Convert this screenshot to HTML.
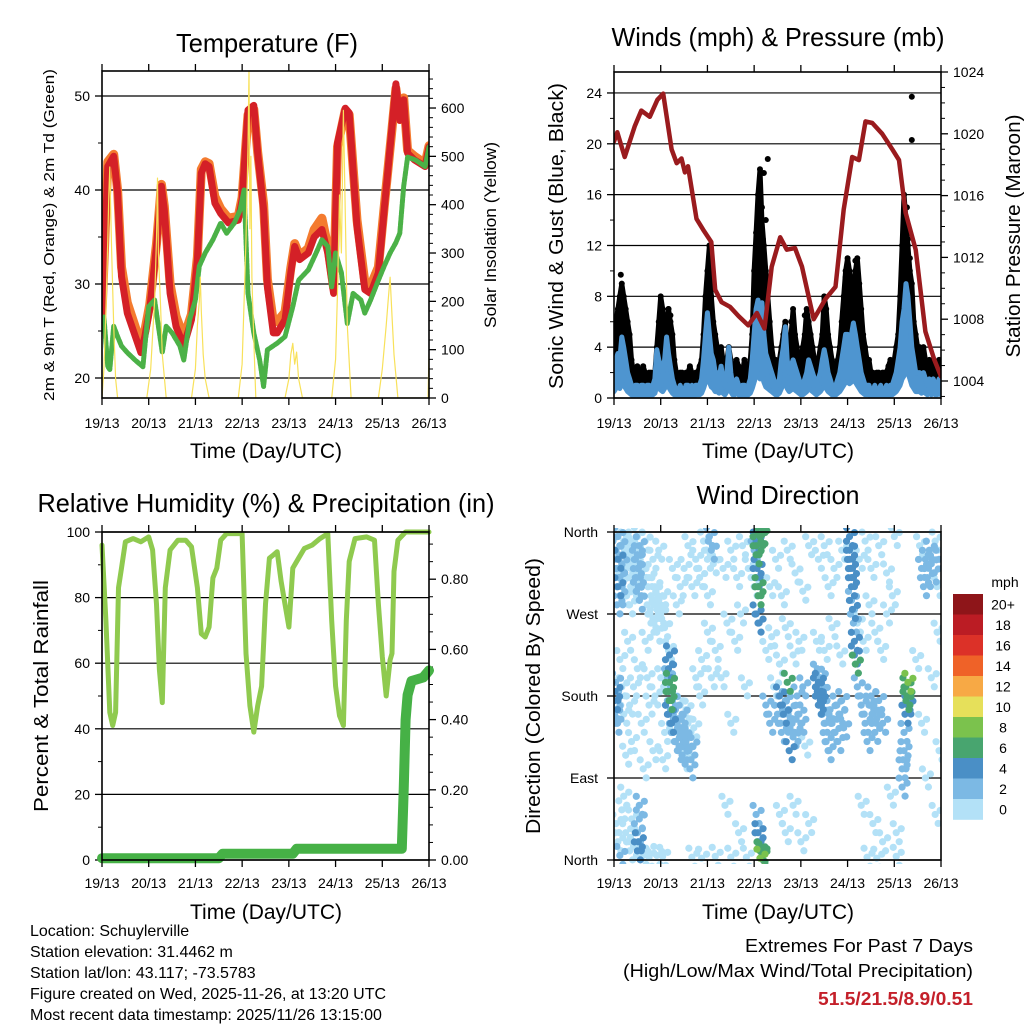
<!DOCTYPE html>
<html><head><meta charset="utf-8"><style>
html,body{margin:0;padding:0;background:#fff}
svg{display:block}
text{font-family:"Liberation Sans",sans-serif;fill:#000}
</style></head><body>
<svg id="fig" width="1024" height="1024" viewBox="0 0 1024 1024" xmlns="http://www.w3.org/2000/svg">
<rect x="0" y="0" width="1024" height="1024" fill="#fff"/>
<text x="267" y="52" font-size="26" text-anchor="middle" textLength="182" lengthAdjust="spacingAndGlyphs">Temperature (F)</text>
<text x="778" y="46" font-size="26" text-anchor="middle" textLength="333" lengthAdjust="spacingAndGlyphs">Winds (mph) &amp; Pressure (mb)</text>
<text x="266" y="512" font-size="26" text-anchor="middle" textLength="457" lengthAdjust="spacingAndGlyphs">Relative Humidity (%) &amp; Precipitation (in)</text>
<text x="778" y="504" font-size="26" text-anchor="middle" textLength="163" lengthAdjust="spacingAndGlyphs">Wind Direction</text>
<text x="266" y="458" font-size="21" text-anchor="middle" textLength="152" lengthAdjust="spacingAndGlyphs">Time (Day/UTC)</text>
<text x="778" y="458" font-size="21" text-anchor="middle" textLength="152" lengthAdjust="spacingAndGlyphs">Time (Day/UTC)</text>
<text x="266" y="919" font-size="21" text-anchor="middle" textLength="152" lengthAdjust="spacingAndGlyphs">Time (Day/UTC)</text>
<text x="778" y="919" font-size="21" text-anchor="middle" textLength="152" lengthAdjust="spacingAndGlyphs">Time (Day/UTC)</text>
<text transform="translate(54,235) rotate(-90)" font-size="15" text-anchor="middle" textLength="332" lengthAdjust="spacingAndGlyphs">2m &amp; 9m T (Red, Orange) &amp; 2m Td (Green)</text>
<text transform="translate(496,235) rotate(-90)" font-size="17" text-anchor="middle" textLength="186" lengthAdjust="spacingAndGlyphs">Solar Insolation (Yellow)</text>
<text transform="translate(563,236) rotate(-90)" font-size="20" text-anchor="middle" textLength="306" lengthAdjust="spacingAndGlyphs">Sonic Wind &amp; Gust (Blue, Black)</text>
<text transform="translate(1020,236) rotate(-90)" font-size="20" text-anchor="middle" textLength="243" lengthAdjust="spacingAndGlyphs">Station Pressure (Maroon)</text>
<text transform="translate(48,696) rotate(-90)" font-size="20" text-anchor="middle" textLength="232" lengthAdjust="spacingAndGlyphs">Percent &amp; Total Rainfall</text>
<text transform="translate(540,696) rotate(-90)" font-size="20" text-anchor="middle" textLength="276" lengthAdjust="spacingAndGlyphs">Direction (Colored By Speed)</text>
<g font-size="16">
<text x="30" y="936">Location: Schuylerville</text>
<text x="30" y="957">Station elevation: 31.4462 m</text>
<text x="30" y="978">Station lat/lon: 43.117; -73.5783</text>
<text x="30" y="999">Figure created on Wed, 2025-11-26, at 13:20 UTC</text>
<text x="30" y="1020">Most recent data timestamp: 2025/11/26 13:15:00</text>
</g>
<text x="973" y="952" font-size="18" text-anchor="end" textLength="228" lengthAdjust="spacingAndGlyphs">Extremes For Past 7 Days</text>
<text x="973" y="977" font-size="18" text-anchor="end" textLength="350" lengthAdjust="spacingAndGlyphs">(High/Low/Max Wind/Total Precipitation)</text>
<text x="973" y="1005" font-size="18" font-weight="bold" text-anchor="end" textLength="155" lengthAdjust="spacingAndGlyphs" style="fill:#c4202a">51.5/21.5/8.9/0.51</text>
</svg>
<script>
// ---------------- DATA ----------------
const dayLabels = ["19/13","20/13","21/13","22/13","23/13","24/13","25/13","26/13"];
const tempTicks = [20,30,40,50];
const solarTicks = [0,100,200,300,400,500,600];
const windTicks = [0,4,8,12,16,20,24];
const pressTicks = [1004,1008,1012,1016,1020,1024];
const rhTicks = [0,20,40,60,80,100];
const precipTicks = ["0.00","0.20","0.40","0.60","0.80"];
const dirNames = ["North","East","South","West","North"];
const speedBins = ["0","2","4","6","8","10","12","14","16","18","20+"];
const speedColors = ["#b3e1f7","#7cb9e4","#4a8fc6","#48a56f","#7bc24d","#e6e05a","#f7a945","#ef6228","#dc3128","#bb1c24","#8e1519"];

const temp2m = [[0,26.2],[3,42.5],[6,43.6],[8,39.7],[10,30.8],[13,26.9],[20,22.7],[22,24.4],[24.5,27.3],[28,34],[30.5,40.4],[32,37.9],[35,29],[38,25.5],[42,23.4],[46,26.2],[49,32.6],[51,41.8],[53,42.8],[55,42.5],[58,38.6],[61,37.5],[65,36.5],[70,36.8],[72,39],[75,48.5],[78,49],[80,43.9],[83,37.9],[85,29.7],[88,24.8],[90,24.8],[94,26.2],[97,31.2],[99,34],[101.5,32.6],[106,33.3],[109,35],[113,35.8],[116,33.3],[119,29],[121,45],[125,48.7],[127,48.2],[131,36.1],[135,29.4],[138,29],[142,31.2],[145,37.9],[149,46.7],[151,51.3],[153,47.4],[155,49.6],[157,43.9],[160.5,43.2],[166,42.5],[168,44.6]];
const temp9m = [[0,26.8],[3,43],[6,43.8],[8,40],[10,31.8],[13,28],[20,23.6],[22,25],[24.5,27.8],[28,34.3],[30.5,40.6],[32,38.3],[35,30],[38,26.6],[42,24.3],[46,26.8],[49,32.9],[51,42.2],[53,43],[55,42.8],[58,39.3],[61,38],[65,37],[70,37.2],[72,39.2],[75,48],[78,48.6],[80,44],[83,38.5],[85,30.5],[88,26],[90,26],[94,27],[97,31.7],[99,34.3],[101.5,33],[106,33.8],[109,35.8],[113,37],[116,34],[119,29.6],[121,44.6],[125,48.5],[127,48],[131,36.8],[135,30.2],[138,29.8],[142,31.8],[145,38.2],[149,46.5],[151,50.8],[153,47.5],[155,49.8],[157,44.2],[160.5,43.6],[166,42.8],[168,44.7]];
const dewpoint = [[0,25.5],[1,26.5],[3,21.2],[4,20.9],[6,25.5],[8,24.4],[10,23.4],[13,22.7],[17,21.9],[21,21.2],[24,27.6],[27,28.3],[29,25.5],[31,22.7],[33,25.5],[36,24.8],[40,23.4],[42,21.9],[45,26.2],[48,28.3],[50,31.9],[53,33.3],[57,34.7],[61,36.5],[64,35.4],[68,36.5],[71,37.9],[73,40],[75,29],[78,24.8],[81,21.9],[83,19.1],[85,23],[90,23.7],[94,24.4],[98,27.6],[101,30.4],[106,31.5],[110,33.3],[113,34.7],[116,34],[118,29.7],[120,33.3],[123,31.2],[126,25.8],[129,29],[133,28.3],[135,26.9],[138,28.3],[142,30.4],[145,31.9],[148,33.3],[151,34.4],[153,35.4],[155,40.4],[157,43.5],[161,43.2],[166,42.5],[168,44.6]];
const solar = [[0,0],[1,60],[2,180],[3,330],[3.5,420],[4,478],[4.5,380],[5,300],[6,150],[7,40],[8,0],[23,0],[25,60],[26,130],[27,200],[28,330],[28.5,455],[29,300],[30,200],[31,90],[33,0],[46,0],[48,60],[49,150],[50,200],[50.5,250],[51,180],[52,90],[53,40],[55,0],[70,0],[72,70],[73,200],[74,330],[75,520],[75.5,680],[76,350],[76.5,500],[77,250],[78,120],[79,0],[94,0],[96,40],[97,90],[98,113],[99,70],[100,95],[101,40],[103,0],[118,0],[120,80],[121,220],[122,420],[123,300],[124,595],[125,380],[126,150],[128,0],[142,0],[144,60],[146,150],[147,200],[148,250],[149,170],[150,90],[152,0],[167.5,0],[168,90]];

const pressure = [[0,1019.5],[1.7,1020.1],[5.5,1018.5],[10.7,1020.5],[14,1021.5],[18.4,1021.1],[22.3,1022.2],[25.3,1022.6],[29.6,1019],[32.2,1018.1],[34.7,1018.4],[36.4,1017.5],[38,1017.9],[42.4,1014.5],[45.8,1013.8],[50,1013],[52,1009.9],[55.3,1009.1],[59.6,1008.8],[64,1008.2],[69,1007.6],[73.4,1008.4],[77.3,1007.4],[81,1011.4],[85.4,1013.3],[88.8,1012.5],[93,1012.6],[96.6,1011.4],[102.6,1008],[108.6,1009.3],[113.8,1010.1],[118,1015.1],[122.4,1018.5],[125.8,1018.3],[129.2,1020.8],[132.7,1020.7],[137.8,1020],[143,1019],[146.4,1018.3],[149.8,1014.9],[155,1012.5],[160,1007.2],[164.5,1005.4],[168,1004.3]];
// hourly, hours 0..168
const windSpeed = [2,3,3.5,3,4.8,4,3,2,1.5, 1,0.5,1,1,0.5,1,1,0.5,1,1,0.5,1,1.5, 3.8,3,2.5,2,3,4.8,3.5,2.5,1.5, 1,0.5,0.5,1,0.5,0.5,1,1,0.5,1,0.5,1,1,1,1.5, 3,5,6.7,5,3.5,3,2, 2,1.5,2.5,1.5,1,2,4,2,1,1,1.5,1,0.5,1,1,0.5,1,1.5, 3,5,7,7.7,6,7.5,5,3.5,3,2.5, 2,1.5,1,1,1.5,3,4,5.6,3,2,2.5,3,2.5,2,1.5,1,1, 1.5,2,3,2.5,2,1.5,1,1.5,2,3,3.8,3,2,1.5,1,1,1,1.5,2, 3,4,5,5,4.5,5,5.9,5,4,3,2,1.5,1,1,1, 0.5,0.5,1,0.5,0.5,1,0.5,0.5,1,0.5,1,1,1.5,2,3, 4,6,7,9,8,6,4,3,2,2, 2,1.5,2,1.5,1,1.5,1,1.5,1,1,1.5,1,1];
const windGust = [5,6,7,8,9,8,7,6,5, 3,2,2,2.5,2,2,2.5,2,1.5,2,2,1.5,2, 4,6,8,7,6,5,7,6,5, 3,2,1.5,2,2,1.5,2,2,2.5,2,1.5,2,2,2.5,3, 5,8,10,12,8,6,5, 4,3,4,3,2.5,3,4,3,2.5,2,3,2.5,2,2,3,2,2.5,3, 5,10,13,16,18,14,12,10,8,6, 4,3,3,2.5,3,4,5,6,4,3,5,7,5,4,3,3,4, 5,7,6,5,4,3,2.5,3,4,5,8,7,5,4,3,2.5,2,3,4, 6,8,10,11,10,9,8,10,11,9,7,5,4,3,3, 2,2,1.5,2,2,1.5,2,2,2,2.5,3,2.5,3,4,5, 8,12,16,14,12,10,9,6,5,4, 4,3,4,3,2.5,3,2,3,2.5,2,3,2,2];
const gustExtra = [[153,23.7],[153,20.3],[79,18.8],[77,17.7],[76,15],[78,14],[76.5,12.5],[74,11],[124,10.8],[125,9.5],[122,9],[151,12.5],[152,11],[50,11],[48.5,9],[3.5,9.7],[4,8.5],[28,7],[29,6.5],[98,6.5],[91,6],[109,7],[108,6.5],[119,9.5],[120,10],[150,13.5],[149,11.5],[150.5,15]];

const rh = [[0,96],[2,73],[4,45],[5.5,41],[7,45],[8.5,83],[10,89],[12,97],[16,98],[20,97],[24,98.5],[26,94.5],[28,78],[29.5,58],[31,48],[32.5,83],[35,94.5],[39,97.5],[43,97.5],[46,95.5],[49,83],[51,69],[53,68],[55,71],[57,86],[59,89],[61,97.5],[64,99.5],[72,99.5],[74,63],[76,47],[78,39],[80,47],[82,53],[84,78],[86,92],[88,93],[90,94],[92,85],[94,78],[96,71],[98,89],[101,92],[104,95],[108,96],[112,98],[116,99.5],[118,73],[120,53],[122,44],[124,41],[125.5,73],[127,91],[130,98],[136,98.5],[140,97.5],[142,78],[144,62],[146,50],[148,61],[149,63],[150,88],[152,97.5],[156,100],[168,100]];
const precip = [[0,0.005],[60,0.005],[62,0.018],[98,0.018],[100,0.032],[154,0.032],[155,0.2],[156,0.4],[157,0.47],[159,0.51],[165,0.52],[168,0.54]];

// [hour, direction deg, speed mph]
const windDirPoints = [[1,340,3],[1.5,320,2.5],[2,330,4.2],[2,300,4.5],[2.5,310,3],[3,290,2.5],[3,345,3],[4,325,2],[2,355,3],[1.5,280,2.5],
[5,350,1],[6,335,1],[7,310,1.5],[8,345,1],[9,325,1.5],[10,300,1],[11,340,1],[12,355,1.5],[13,315,1],[6,290,1],[8,280,1.5],[4,305,1],[7,330,1],[9,350,1],[10,320,1.5],
[11,330,2.5],[11.5,310,3],[12,320,2.5],[12.5,300,2.5],[13,345,2],[13,285,3.5],[12,335,2.5],[11.5,295,2.5],
[12,30,3],[12.5,20,4],[13,45,3],[12,10,4.5],[13,60,2.5],
[1,40,1],[2,20,1],[3,5,2],[4,55,1],[6,30,1],[8,10,1],[10,15,1],[15,5,1],[18,3,1],[22,5,1],[25,4,1],[5,70,1],[9,45,1],
[0.3,175,4],[0.5,185,4.5],[0.5,165,3],[0.8,195,2.5],[1,150,2],[0.3,160,3],
[3,220,1],[5,160,1],[7,240,1],[9,130,1],[10,190,1],[12,210,1],[14,150,1],[16,240,1],[18,170,1],[20,120,1],[22,250,1],[24,200,1],[26,140,1],[28,230,1],[6,115,1],[15,100,1],[17,200,1],[19,260,1],[4,190,1],[8,170,1],[21,180,1],[25,110,1],
[17,280,1.5],[19,290,1],[20,265,1.5],[21,300,1],[22,275,1],[23,285,1.5],[24,270,1],[25,290,1],[26,255,1],[18,310,1],[20,330,1],[23,340,1],[15,320,1],[16,350,1],
[28,185,6.5],[28.3,175,6.5],[28.5,195,7],[28,160,4],[29,150,4.5],[29,165,3.5],[27.5,200,3],[30,140,3],[31,130,3.5],[30,175,3],[28,210,4],[28.5,225,4.5],
[32,150,2.5],[33,120,2],[34,140,2],[35,160,2.5],[36,110,1.5],[37,130,2.5],[38,150,1.5],[39,100,3],[40,125,2],[41,145,1.5],[34,170,1.5],[36,135,2],[38,120,3],[35,115,2],[37,165,1.5],[33,155,2],
[36,320,1],[38,345,1],[40,300,1],[42,330,1],[44,310,1],[46,350,1],[48,290,1],[30,320,1],[32,280,1],[34,300,1],
[45,220,1],[48,250,1],[50,200,1],[52,230,1],[44,180,1],[42,200,1],
[49,355,2],[50,340,2.5],[51,325,1.5],[48,330,1],
[60,340,1],[63,310,1],[66,345,1],[69,320,1],[72,300,1],[56,320,1],[58,260,1],[62,240,1],[65,270,1],[55,200,1],[60,150,1],[67,190,1],[57,60,1],[64,30,1],
[74,358,7],[75,355,6.5],[76,357,6],[73,345,6.5],[73,335,7],[73.5,320,4.5],[73,310,4],[74,300,6.5],[74,290,6],[73,270,4],[74,260,4.5],[73,350,4],[72,340,3],
[74,20,4],[75,10,7],[76,5,7.5],[75,2,8],[76,8,6.5],[74,30,4],[73,50,2],
[78,170,2],[80,150,2.5],[82,190,1.5],[84,160,3],[86,140,2.5],[88,175,3.5],[90,165,3],[92,135,3],[94,180,2],[96,150,3.5],[98,125,1.5],[85,180,4],[87,160,4.5],[89,195,6.5],[90,120,4],[91,150,2.5],[93,140,2],[97,190,2],[86,170,3],[88,150,3],[95,160,2.5],
[78,230,1],[81,245,1],[85,215,1],[88,255,1],[92,225,1],[95,240,1],
[80,300,1],[83,330,1],[86,290,1],[89,340,1],[93,315,1],[97,295,1],[100,345,1],
[85,50,1],[88,30,1],[92,60,1],[96,20,1],[100,40,1],
[104,190,4],[105,180,4.5],[105,170,4],[106,200,3],[107,160,3],[108,150,3],[109,130,2.5],[110,120,3],[106,175,4],[104,205,3],[107,185,3.5],[105,195,4],
[112,150,3],[113,140,2.5],[114,170,3.5],[115,130,3],[116,160,2],[118,145,2.5],[111,165,3],[117,175,2],
[104,240,1],[108,230,1],[112,255,1],[116,225,1],
[105,330,1],[108,345,1],[110,300,1],[113,320,1],[117,340,1],
[121,355,4],[121,340,4.5],[121.5,320,4.5],[122,300,4],[122,285,3.5],[122.5,275,4],[123,260,3],[123.5,240,4],[123.5,225,4.5],[124,215,6],[121,330,4],[122,310,4.5],
[125,190,3],[127,170,2.5],[129,150,3],[130,130,2.5],[132,180,2],[133,160,3],[134,140,3],[136,175,2],[138,150,2.5],[131,170,3],[135,155,2.5],
[125,260,1],[128,240,1],[131,280,1],[134,250,1],[137,230,1],[140,270,1],[143,290,1],
[126,330,1],[129,350,1],[132,320,1],[136,345,1],[140,315,1],[144,355,1],
[127,60,1],[133,40,1],[138,20,1],[142,70,1],[145,30,1],
[150,190,6.5],[150.5,180,6],[151,195,8],[150,175,7],[149.5,160,4],[149,140,3.5],[149,120,3],[148,100,3],[148,80,3],[148.5,110,3.5],[151,170,4],
[158,320,2.5],[160,330,3],[161,310,2.5],[162,340,2],[163,325,2.5],[165,350,1.5],[166,300,1],[167,330,2],[157,345,1.5],[159,300,2],[164,315,2.5],
[155,220,1],[158,150,1],[160,90,1],[163,200,1],[165,50,1],[167,120,1],[166,250,1],
[40,3,1],[45,2,1],[52,4,1],[60,3,1],[68,3,1],[130,3,1],[135,2,1],[145,4,1]];

// ---------------- DRAWING ----------------
const NS = "http://www.w3.org/2000/svg";
const svg = document.getElementById("fig");
function mk(tag, attrs, parent){
  const el = document.createElementNS(NS, tag);
  for (const k in attrs) el.setAttribute(k, attrs[k]);
  (parent || svg).appendChild(el);
  return el;
}
function txt(x, y, s, size, anchor, name){
  const t = mk("text", {x:x, y:y, "font-size":size, "text-anchor":anchor});
  t.textContent = s;
  
  
  return t;
}
function poly(pts, stroke, w, name, extra){
  const p = mk("polyline", Object.assign({points: pts.map(q=>q[0].toFixed(1)+","+q[1].toFixed(1)).join(" "), fill:"none", stroke:stroke, "stroke-width":w, "stroke-linejoin":"round", "stroke-linecap":"round"}, extra||{}));
  
  
  return p;
}
function seg(x1,y1,x2,y2,w,name){
  const l = mk("line",{x1:x1,y1:y1,x2:x2,y2:y2,stroke:"#000","stroke-width":w});
  
  
  return l;
}
function frame(L,T,R,B,name){
  const r = mk("rect",{x:L,y:T,width:R-L,height:B-T,fill:"none",stroke:"#000","stroke-width":1.6});
  
  
}
function xAxis(L,R,T,B,prefix,labelY){
  const xs = h => L + h/168*(R-L);
  dayLabels.forEach((lab,i)=>{
    const x = xs(i*24);
    seg(x,B,x,B+7,1.3,prefix+"-x-tick");
    seg(x,T,x,T-7,1.3,prefix+"-top-tick");
    txt(x, labelY, lab, 14, "middle", prefix+"-x-label");
  });
  return xs;
}

// Panel 1: Temperature
(function(){
  const L=102,T=71,R=429,B=398;
  const X = h => L + h/168*(R-L);
  const Y = v => 378 - (v-20)*9.4;
  const YS = v => 398 - v*0.4833;
  const clip = mk("clipPath",{id:"c1"}); mk("rect",{x:L,y:T,width:R-L,height:B-T},clip);
  tempTicks.forEach(v=>{ seg(L,Y(v),R,Y(v),1.2,"temp-gridline"); seg(L-7,Y(v),L,Y(v),1.3,"temp-y-tick"); txt(L-12,Y(v)+5,String(v),14,"end","temp-y-label"); });
  [25,35,45].forEach(v=>seg(L-4,Y(v),L,Y(v),1,"temp-minor-tick"));
  solarTicks.forEach(v=>{ seg(R,YS(v),R+7,YS(v),1.3,"solar-tick"); txt(R+12,YS(v)+5,String(v),14,"start","solar-label"); });
  for(let v=20; v<=660; v+=20){ if(v%100) seg(R,YS(v),R+4,YS(v),1,"solar-minor-tick"); }
  const g = mk("g",{"clip-path":"url(#c1)"});  
  g.appendChild(poly(temp9m.map(d=>[X(d[0]),Y(d[1])]),"#f47b2f",9,"temp-9m-line"));
  g.appendChild(poly(temp2m.map(d=>[X(d[0]),Y(d[1])]),"#d42027",7,"temp-2m-line"));
  g.appendChild(poly(dewpoint.map(d=>[X(d[0]),Y(d[1])]),"#4bb147",5,"dewpoint-line",{"stroke-dasharray":"4 1.5"}));
  g.appendChild(poly(solar.map(d=>[X(d[0]),YS(d[1])]),"#f8e15a",1.2,"solar-line"));
  frame(L,T,R,B,"temp-frame");
  xAxis(L,R,T,B,"temp",428);
})();

// Panel 2: Winds & Pressure
(function(){
  const L=614,T=72,R=941,B=398;
  const X = h => L + h/168*(R-L);
  const Y = v => 398 - v*12.71;
  const YP = p => 381 - (p-1004)*15.45;
  const clip = mk("clipPath",{id:"c2"}); mk("rect",{x:L,y:T,width:R-L,height:B-T},clip);
  windTicks.forEach(v=>{ seg(L,Y(v),R,Y(v),1.2,"wind-gridline"); seg(L-7,Y(v),L,Y(v),1.3,"wind-y-tick"); txt(L-12,Y(v)+5,String(v),14,"end","wind-y-label"); });
  for(let v=2; v<=24; v+=4) seg(L-4,Y(v),L,Y(v),1,"wind-minor-tick");
  pressTicks.forEach(v=>{ seg(R,YP(v),R+7,YP(v),1.3,"pressure-tick"); txt(R+12,YP(v)+5,String(v),14,"start","pressure-label"); });
  for(let v=1003; v<=1024; v++){ if(v%4) seg(R,YP(v),R+4,YP(v),1,"pressure-minor-tick"); }
  const g = mk("g",{"clip-path":"url(#c2)"});  
  // gust band: filled between wind speed and gust
  const up = windGust.map((v,i)=>X(i).toFixed(1)+","+Y(v).toFixed(1));
  const dn = windSpeed.map((v,i)=>X(i).toFixed(1)+","+Y(v).toFixed(1)).reverse();
  const band = mk("polygon",{points: up.concat(dn).join(" "), fill:"#000", stroke:"#000","stroke-width":5,"stroke-linejoin":"round"},g);
  
  
  windGust.forEach((v,i)=>{ const c=mk("circle",{cx:X(i),cy:Y(v),r:3,fill:"#000"},g);
    
     });
  gustExtra.forEach(d=>{ const c=mk("circle",{cx:X(d[0]),cy:Y(d[1]),r:3,fill:"#000"},g);
    
     });
  // blue wind: filled down to near zero
  const wUp = windSpeed.map((v,i)=>X(i).toFixed(1)+","+Y(v).toFixed(1));
  const wDn = windSpeed.map((v,i)=>X(i).toFixed(1)+","+Y(v*0.25).toFixed(1)).reverse();
  const wb = mk("polygon",{points: wUp.concat(wDn).join(" "), fill:"#4e95d0", stroke:"#4e95d0","stroke-width":5,"stroke-linejoin":"round"},g);
  
  
  g.appendChild(poly(pressure.map(d=>[X(d[0]),YP(d[1])]),"#9a1b1e",4.5,"pressure-line"));
  frame(L,T,R,B,"wind-frame");
  xAxis(L,R,T,B,"wind",428);
})();

// Panel 3: RH & precip
(function(){
  const L=102,T=532,R=429,B=860;
  const X = h => L + h/168*(R-L);
  const Y = v => 860 - v*3.28;
  const YP = v => 860 - v*351;
  rhTicks.forEach(v=>{ seg(L,Y(v),R,Y(v),1.2,"rh-gridline"); seg(L-7,Y(v),L,Y(v),1.3,"rh-y-tick"); txt(L-12,Y(v)+5,String(v),14,"end","rh-y-label"); });
  for(let v=10; v<100; v+=20) seg(L-4,Y(v),L,Y(v),1,"rh-minor-tick");
  precipTicks.forEach(s=>{ const v=parseFloat(s); seg(R,YP(v),R+7,YP(v),1.3,"precip-tick"); txt(R+12,YP(v)+5,s,14,"start","precip-label"); });
  for(let k=1; k<=18; k++){ if(k%4) seg(R,YP(k*0.05),R+4,YP(k*0.05),1,"precip-minor-tick"); }
  const clip = mk("clipPath",{id:"c3"}); mk("rect",{x:L-6,y:T-6,width:R-L+12,height:B-T+12},clip);
  const g = mk("g",{"clip-path":"url(#c3)"});  
  g.appendChild(poly(rh.map(d=>[X(d[0]),Y(d[1])]),"#8fca4f",5,"rh-line"));
  g.appendChild(poly(precip.map(d=>[X(d[0]),YP(d[1])]),"#46b146",10,"precip-line"));
  frame(L,T,R,B,"rh-frame");
  xAxis(L,R,T,B,"rh",888);
})();

// Panel 4: wind direction
(function(){
  const L=614,T=532,R=941,B=860;
  const X = h => L + h/168*(R-L);
  const Y = d => 860 - d/360*328;
  dirNames.forEach((n,i)=>{ const y=Y(i*90); seg(L,y,R,y,1.2,"dir-gridline"); seg(L-7,y,L,y,1.3,"dir-y-tick"); txt(L-16,y+5,n,14,"end","dir-y-label"); });
  const clip = mk("clipPath",{id:"c4"}); mk("rect",{x:L,y:T-4,width:R-L,height:B-T+8},clip);
  const g = mk("g",{"clip-path":"url(#c4)"});  
  const sorted = windDirPoints.slice().sort((a,b)=>a[2]-b[2]);
  const spread = [[0,0],[3,9],[-3,-9],[5,-4]];
  sorted.forEach(d=>{
    const bin = Math.min(10, Math.floor(d[2]/2));
    spread.forEach(o=>{
      const c = mk("circle",{cx:X(d[0])+o[0],cy:Y(d[1])+o[1],r:3.6,fill:speedColors[bin]},g);
      
      
    });
  });
  frame(L,T,R,B,"dir-frame");
  xAxis(L,R,T,B,"dir",888);
  const cb = mk("g",{});  
  const top=594, h=20.5;
  for(let i=0;i<11;i++){
    const idx = 10-i;
    const r = mk("rect",{x:953,y:top+i*h,width:30,height:h+0.3,fill:speedColors[idx]},cb);
    
    
    txt(1003, top+i*h+h/2+5, speedBins[idx], 14, "middle", "colorbar-label");
  }
  txt(1005, 587, "mph", 14, "middle", "colorbar-unit");
})();
</script>
</body></html>
